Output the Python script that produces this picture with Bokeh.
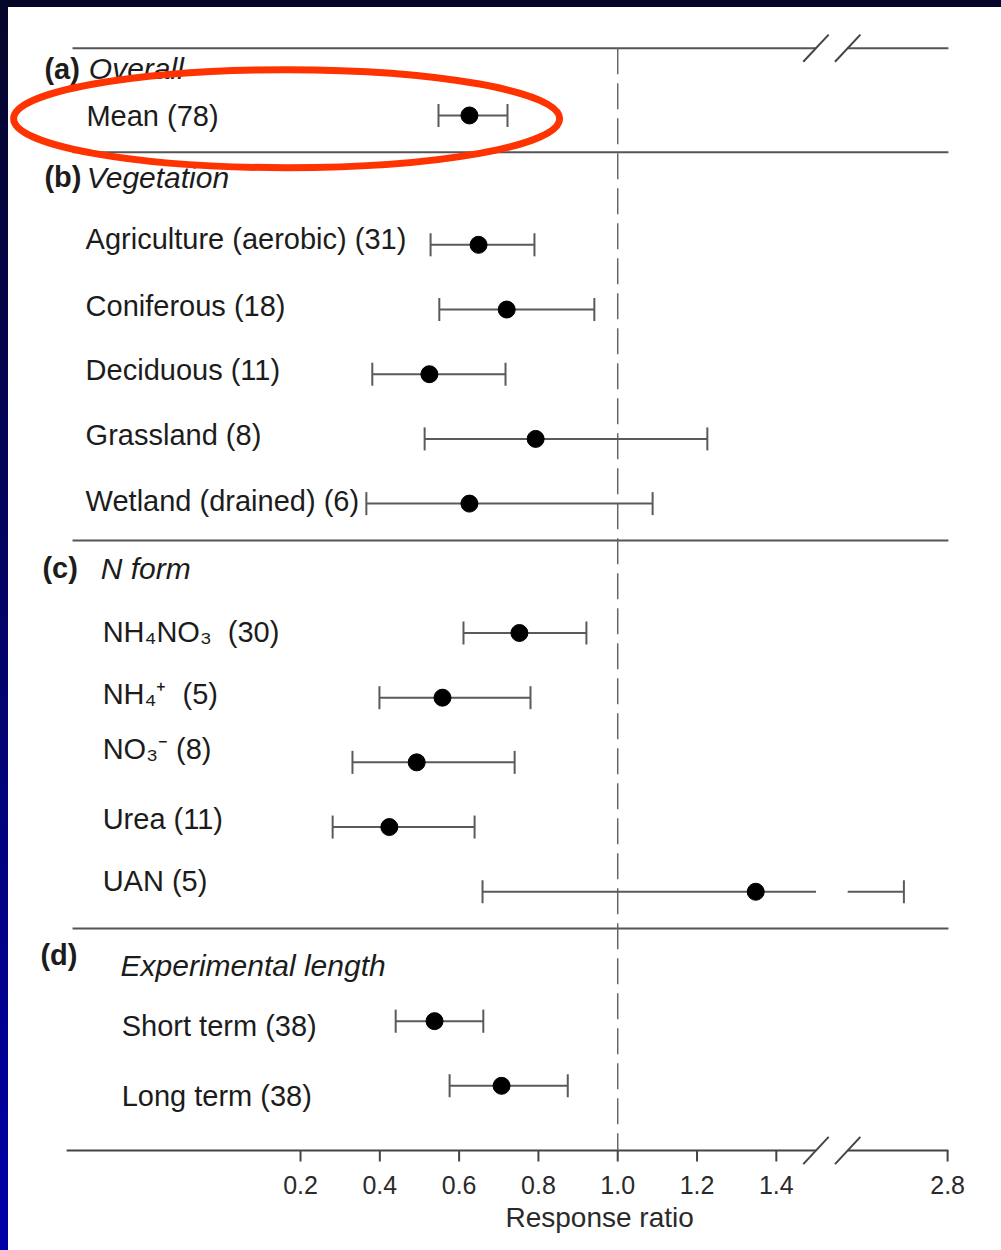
import numpy as np
from bokeh.plotting import figure
from bokeh.models import (Range1d, FixedTicker, CustomJSTickFormatter, Title,
                          GlobalInlineStyleSheet, ColumnDataSource)
from bokeh.core.properties import value
from bokeh.embed import file_html
from bokeh.resources import INLINE

# ---------------- data ----------------
group_tags = ["(a)", "(b)", "(c)", "(d)"]
group_names = ["Overall", "Vegetation", "N form", "Experimental length"]
labels = ["Mean (78)",
          "Agriculture (aerobic) (31)", "Coniferous (18)", "Deciduous (11)",
          "Grassland (8)", "Wetland (drained) (6)",
          "NH\u2084NO\u2083\u00a0 (30)", "NH\u2084\u207A\u00a0 (5)", "NO\u2083\u207B (8)",
          "Urea (11)", "UAN (5)",
          "Short term (38)", "Long term (38)"]
label_group = [0, 1, 1, 1, 1, 1, 2, 2, 2, 2, 2, 3, 3]
mean_rr = [0.626, 0.649, 0.720, 0.525, 0.793, 0.626,
           0.752, 0.558, 0.493, 0.424, 1.348, 0.538, 0.707]
ci_low = [0.548, 0.528, 0.550, 0.381, 0.513, 0.366,
          0.611, 0.399, 0.331, 0.281, 0.659, 0.440, 0.576]
ci_high = [0.722, 0.790, 0.941, 0.717, 1.226, 1.088,
           0.921, 0.780, 0.740, 0.639, 2.45, 0.661, 0.874]
tick_values = [0.2, 0.4, 0.6, 0.8, 1.0, 1.2, 1.4, 2.8]
tick_labels = ["0.2", "0.4", "0.6", "0.8", "1.0", "1.2", "1.4", "2.8"]
axis_title = "Response ratio"

# ---------------- broken axis transform ----------------
BREAK_V1 = 1.5    # last value of the left segment
BREAK_V2 = 2.0    # first value of the right segment
BREAK_P2 = 1.58   # axis position where the right segment starts
SCALE2 = 0.315    # compression of the right segment


def to_axis(v):
    return v if v <= BREAK_V1 else BREAK_P2 + (v - BREAK_V2) * SCALE2


# ---------------- layout of rows ----------------
row_y, header_y = [], []
y = -2
for g in range(len(group_tags)):
    y += 1
    header_y.append(y)
    for _ in range(label_group.count(g)):
        y += 1
        row_y.append(y)
last_in_group = [max(ry for ry, g in zip(row_y, label_group) if g == k) for k in range(4)]

# styling / layout constants (offsets in screen px, positive = down)
LABEL_X = [-0.340, -0.342, -0.299, -0.251]
label_yoff = [1, -6, -4, -4, -4, -3, -1, -4, -13, -8, -11, 5, 10]
TAG_X = [-0.446, -0.446, -0.451, -0.456]
NAME_X = [-0.334, -0.339, -0.304, -0.254]
tag_yoff = [18, -3, 0, -1]
name_yoff = [18, -3, 0, 9]
TOP_Y = -1.04
AXIS_Y = 16.0
TICK_LEN = 0.17
LINE_L = -0.375
LINE_R = to_axis(2.8) + 0.002
FONT = value("Liberation Sans")
TXT = "#1c1c1c"

p = figure(width=993, height=1243,
           x_range=Range1d(-0.5365, 1.9679), y_range=Range1d(16.309, -1.669),
           output_backend="svg", toolbar_location=None, y_axis_location=None,
           min_border_left=0, min_border_right=0, min_border_top=0,
           min_border_bottom=80, background_fill_color="white",
           border_fill_color="white", outline_line_color=None)
p.grid.visible = False
p.stylesheets = [GlobalInlineStyleSheet(css=(
    "html{margin:0 !important;padding:0 !important;overflow:hidden !important;"
    "background:linear-gradient(#06062a,#06062a) top left/100% 7px no-repeat,"
    "linear-gradient(#06062a,#0000a8) top left/8px 100% no-repeat,#ffffff !important;}"
    "body{margin:7px 0 0 8px !important;padding:0 !important;overflow:hidden !important;"
    "background:transparent !important;}"))]

# frame lines (top + separators)
sep_y = [ly + 0.57 for ly in last_in_group[:3]]
p.segment(x0=[LINE_L, BREAK_P2], x1=[BREAK_V1, LINE_R], y0=[TOP_Y, TOP_Y],
          y1=[TOP_Y, TOP_Y], line_color="#555555", line_width=2)
p.segment(x0=[LINE_L] * 3, x1=[LINE_R] * 3, y0=sep_y, y1=sep_y,
          line_color="#555555", line_width=2)
# bottom axis line with break, and its ticks
p.segment(x0=[-0.39, BREAK_P2], x1=[BREAK_V1, LINE_R], y0=[AXIS_Y, AXIS_Y],
          y1=[AXIS_Y, AXIS_Y], line_color="#444444", line_width=2)
tick_pos = [round(to_axis(v), 6) for v in tick_values]
p.segment(x0=tick_pos, x1=tick_pos, y0=[AXIS_Y] * len(tick_pos),
          y1=[AXIS_Y + TICK_LEN] * len(tick_pos), line_color="#444444", line_width=2)
# break slashes
for yy in (TOP_Y, AXIS_Y):
    p.segment(x0=[BREAK_V1 - 0.032, BREAK_P2 - 0.032],
              x1=[BREAK_V1 + 0.032, BREAK_P2 + 0.032],
              y0=[yy + 0.21, yy + 0.21], y1=[yy - 0.21, yy - 0.21],
              line_color="#444444", line_width=2)

# reference line at 1.0
p.segment(x0=[1.0], x1=[1.0], y0=[TOP_Y], y1=[AXIS_Y], line_color="#666666",
          line_width=1.5, line_dash="26 9")

# error bars
sx0, sx1, sy = [], [], []
for lo, hi, ry in zip(ci_low, ci_high, row_y):
    if hi > BREAK_V1:
        sx0 += [lo, BREAK_P2]
        sx1 += [BREAK_V1, to_axis(hi)]
        sy += [ry, ry]
    else:
        sx0.append(lo)
        sx1.append(hi)
        sy.append(ry)
p.segment(x0=sx0, x1=sx1, y0=sy, y1=sy, line_color="#5a5a5a", line_width=2)
cap_x = [to_axis(v) for v in ci_low] + [to_axis(v) for v in ci_high]
p.scatter(x=cap_x, y=row_y + row_y, marker="dash", angle=np.pi / 2, size=23,
          line_color="#5a5a5a", line_width=2)
p.scatter(x=[to_axis(v) for v in mean_rr], y=row_y, size=17,
          fill_color="black", line_color="black")

# row labels
src = ColumnDataSource(dict(x=[LABEL_X[g] for g in label_group], y=row_y,
                            t=labels, yo=label_yoff))
p.text(x="x", y="y", text="t", y_offset="yo", source=src, text_font=FONT,
       text_font_size="29px", text_baseline="middle", text_align="left",
       text_color=TXT)

# group headers
hsrc = ColumnDataSource(dict(x=TAG_X, y=header_y, t=group_tags, yo=tag_yoff))
p.text(x="x", y="y", text="t", y_offset="yo", source=hsrc, text_font=FONT,
       text_font_size="29px", text_font_style="bold", text_baseline="middle",
       text_align="left", text_color=TXT)
nsrc = ColumnDataSource(dict(x=NAME_X, y=header_y, t=group_names, yo=name_yoff))
p.text(x="x", y="y", text="t", y_offset="yo", source=nsrc, text_font=FONT,
       text_font_size="30px", text_font_style="italic", text_baseline="middle",
       text_align="left", text_color=TXT)

# red highlight ellipse
p.ellipse(x=[0.165], y=[0.05], width=546, height=98, width_units="screen",
          height_units="screen", fill_color=None, line_color="#ff3300",
          line_width=7)

# x axis: labels only (line and ticks drawn above, with the break)
ax = p.xaxis[0]
ax.ticker = FixedTicker(ticks=tick_pos, minor_ticks=[])
ax.formatter = CustomJSTickFormatter(args=dict(pos=tick_pos, labs=tick_labels), code="""
    for (let i = 0; i < pos.length; i++) { if (Math.abs(pos[i] - tick) < 1e-6) return labs[i]; }
    return '';
""")
ax.axis_line_color = None
ax.major_tick_line_color = None
ax.major_tick_in = 0
ax.major_tick_out = 0
ax.minor_tick_line_color = None
ax.major_label_text_font = "Liberation Sans"
ax.major_label_text_font_size = "25px"
ax.major_label_text_color = "#2a2a2a"
ax.major_label_standoff = 5

# axis title placed under the drawn (broken) axis
p.add_layout(Title(text=axis_title, align="left", offset=497, standoff=7,
                   text_font="Liberation Sans", text_font_size="28px",
                   text_font_style="normal", text_color="#2a2a2a"), "below")

open("out.html", "w").write(file_html(p, INLINE))
